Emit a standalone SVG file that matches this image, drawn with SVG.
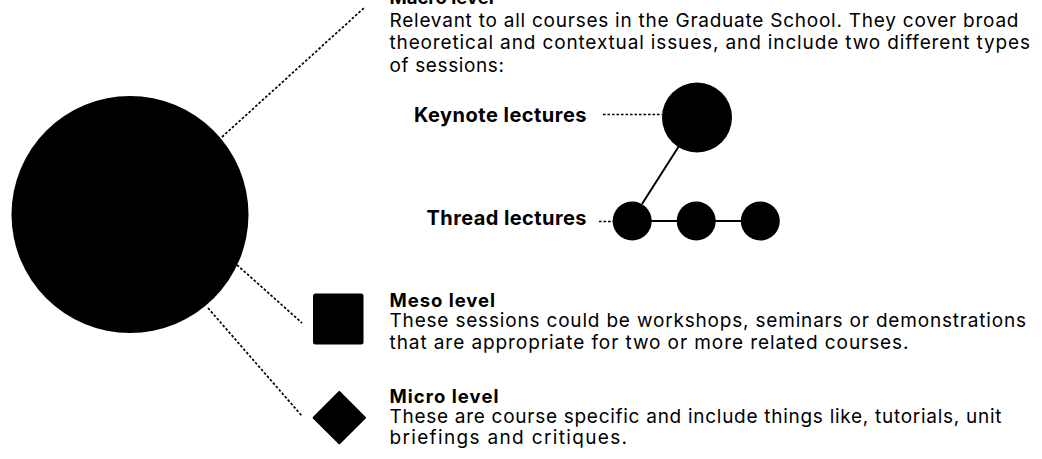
<svg xmlns="http://www.w3.org/2000/svg" width="1042" height="459" viewBox="0 0 1042 459">
<style>
.bg{fill:#ffffff}
.shape{fill:#000000}
.dot{stroke:#000;stroke-width:1.7;stroke-dasharray:2.6 1.9;fill:none}
.solid{stroke:#000;stroke-width:2;fill:none}
.h{font-family:Inter,"Liberation Sans",sans-serif;font-weight:700;font-size:18.5px;fill:#000}
.b{font-family:Inter,"Liberation Sans",sans-serif;font-weight:400;font-size:19px;fill:#000}
.lbl{font-family:Inter,"Liberation Sans",sans-serif;font-weight:700;font-size:20px;fill:#000}
</style>
<rect class="bg" x="0" y="0" width="1042" height="459"/>
<g id="connectors">
<line class="dot" x1="222" y1="137" x2="364" y2="8"/>
<line class="dot" x1="237" y1="265" x2="302" y2="323"/>
<line class="dot" x1="208" y1="308" x2="302" y2="416"/>
<line class="dot" x1="603" y1="114.5" x2="662" y2="114.5"/>
<line class="dot" x1="599" y1="221.5" x2="613" y2="221.5"/>
<line class="solid" x1="679" y1="146" x2="642" y2="204"/>
<line class="solid" x1="650" y1="221" x2="742" y2="221"/>
</g>
<g id="root-circle"><circle class="shape" cx="130" cy="214.5" r="118.5"/></g>
<g id="macro-text">
<text class="h" x="389.5" y="4">Macro level</text>
<text class="b" x="389.5" y="27" textLength="629" lengthAdjust="spacing">Relevant to all courses in the Graduate School. They cover broad</text>
<text class="b" x="389.5" y="49.3" textLength="640.5" lengthAdjust="spacing">theoretical and contextual issues, and include two different types</text>
<text class="b" x="389.5" y="71.5" textLength="114.5" lengthAdjust="spacing">of sessions:</text>
</g>
<g id="keynote">
<text class="lbl" x="414" y="122" textLength="172.5" lengthAdjust="spacing">Keynote lectures</text>
<circle class="shape" cx="697" cy="117.5" r="35"/>
</g>
<g id="thread">
<text class="lbl" x="426.5" y="225" textLength="160" lengthAdjust="spacing">Thread lectures</text>
<circle class="shape" cx="632.2" cy="221" r="19.5"/>
<circle class="shape" cx="696.2" cy="221" r="19.5"/>
<circle class="shape" cx="760.3" cy="221" r="19.5"/>
</g>
<g id="meso">
<rect class="shape" x="313" y="293.5" width="50.5" height="51" rx="2.5"/>
<text class="h" x="389.5" y="307" textLength="105.5" lengthAdjust="spacing">Meso level</text>
<text class="b" x="389.5" y="327" textLength="636.5" lengthAdjust="spacing">These sessions could be workshops, seminars or demonstrations</text>
<text class="b" x="389.5" y="348.5" textLength="519" lengthAdjust="spacing">that are appropriate for two or more related courses.</text>
</g>
<g id="micro">
<path class="shape" d="M339.3 392 L365 417.7 L339.3 443.4 L313.6 417.7 Z" stroke="#000" stroke-width="2" stroke-linejoin="round"/>
<text class="h" x="389.5" y="402.7" textLength="109" lengthAdjust="spacing">Micro level</text>
<text class="b" x="389.5" y="422.5" textLength="612" lengthAdjust="spacing">These are course specific and include things like, tutorials, unit</text>
<text class="b" x="389.5" y="443.7" textLength="237.5" lengthAdjust="spacing">briefings and critiques.</text>
</g>
</svg>
